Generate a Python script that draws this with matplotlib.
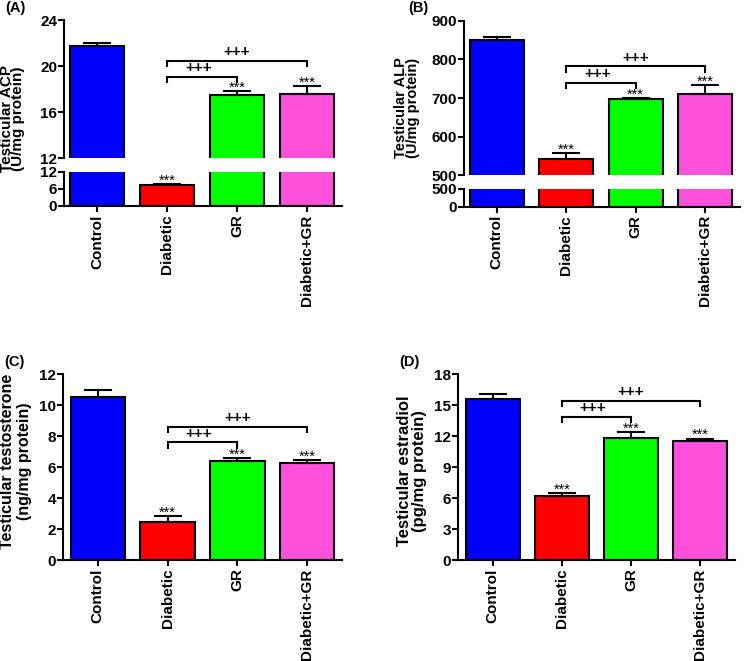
import matplotlib
matplotlib.use("Agg")
import matplotlib.pyplot as plt

plt.rcParams['font.family'] = ['Liberation Sans', 'DejaVu Sans']
plt.rcParams['font.weight'] = 'bold'

groups = ["Control", "Diabetic", "GR", "Diabetic+GR"]
colors = ["#0000FF", "#FF0000", "#00FF00", "#FF50DC"]

# Panel A: testicular ACP (U/mg protein)
acp_mean = [21.7, 7.3, 17.5, 17.55]
acp_sem = [0.3, 0.3, 0.3, 0.7]
acp_brackets = [20.45, 19.07]
# Panel B: testicular ALP (U/mg protein)
alp_mean = [851, 543, 697, 710]
alp_sem = [6, 14, 3, 24]
alp_brackets = [782, 740]
# Panel C: testosterone (ng/mg protein)
tes_mean = [10.55, 2.45, 6.38, 6.30]
tes_sem = [0.45, 0.40, 0.23, 0.17]
tes_brackets = [8.62, 7.60]
# Panel D: estradiol (pg/mg protein)
est_mean = [15.62, 6.22, 11.80, 11.55]
est_sem = [0.47, 0.28, 0.60, 0.22]
est_brackets = [15.43, 13.90]

W, H = 745, 661
fig = plt.figure(figsize=(W / 100, H / 100), dpi=100)

LW = 1.5


def px_axes(x0, y0, x1, y1):
    return fig.add_axes([x0 / W, 1 - y1 / H, (x1 - x0) / W, (y1 - y0) / H])


def style(ax, bottom=True, fs=11):
    for s in ['top', 'right']:
        ax.spines[s].set_visible(False)
    ax.spines['left'].set_linewidth(LW)
    ax.spines['bottom'].set_linewidth(LW)
    ax.tick_params(axis='y', direction='out', length=4, width=LW, labelsize=fs, pad=1)
    if bottom:
        ax.tick_params(axis='x', direction='out', length=4, width=LW, labelsize=fs, pad=2)
        ax.set_xticks(range(len(groups)))
        ax.set_xticklabels(groups, rotation=90, fontweight='bold')
    else:
        ax.spines['bottom'].set_visible(False)
        ax.set_xticks([])
    for lab in ax.get_yticklabels():
        lab.set_fontweight('bold')


def draw_bars(ax, means, sems):
    x = list(range(len(groups)))
    ax.bar(x, means, width=0.78, color=colors, edgecolor='black', linewidth=LW, zorder=2)
    ax.errorbar(x, means, yerr=[[0] * len(sems), sems], fmt='none', ecolor='black',
                elinewidth=LW, capsize=10, capthick=LW, zorder=3)
    for i in range(1, 4):
        ax.annotate('***', xy=(i, means[i] + sems[i]), xytext=(0, -0.5),
                    textcoords='offset points', ha='center', va='baseline',
                    fontsize=10.5, fontweight='normal', zorder=4)


def draw_brackets(ax, levels, drop, fs=11):
    up, low = levels
    ax.plot([1, 1, 3, 3], [up - drop, up, up, up - drop], color='black', lw=LW, clip_on=False,
            solid_joinstyle='miter')
    ax.plot([1, 1, 2, 2], [low - drop, low, low, low - drop], color='black', lw=LW, clip_on=False,
            solid_joinstyle='miter')
    ax.annotate('+++', xy=(2, up), xytext=(0, 1), textcoords='offset points',
                ha='center', va='bottom', fontsize=fs, fontweight='bold')
    ax.annotate('+++', xy=(1.45, low), xytext=(0, 1), textcoords='offset points',
                ha='center', va='bottom', fontsize=fs, fontweight='bold')


XL = (-0.47, 3.5)

# ---- Panel A (broken axis)
axA_up = px_axes(64, 20, 342, 158)
axA_lo = px_axes(64, 172, 342, 206)
for ax in (axA_up, axA_lo):
    draw_bars(ax, acp_mean, acp_sem)
    ax.set_xlim(*XL)
axA_up.set_ylim(12, 24)
axA_up.set_yticks([12, 16, 20, 24])
axA_lo.set_ylim(0, 12)
axA_lo.set_yticks([0, 6, 12])
style(axA_up, bottom=False)
style(axA_lo, bottom=True)
draw_brackets(axA_up, acp_brackets, 0.45)

# ---- Panel B (broken axis)
axB_up = px_axes(464, 20.7, 740, 175.3)
axB_lo = px_axes(464, 188.7, 740, 206.7)
for ax in (axB_up, axB_lo):
    draw_bars(ax, alp_mean, alp_sem)
    ax.set_xlim(*XL)
axB_up.set_ylim(500, 900)
axB_up.set_yticks([500, 600, 700, 800, 900])
axB_lo.set_ylim(0, 500)
axB_lo.set_yticks([0, 500])
style(axB_up, bottom=False)
style(axB_lo, bottom=True)
draw_brackets(axB_up, alp_brackets, 14)

# ---- Panel C
axC = px_axes(63, 374.3, 342, 560)
draw_bars(axC, tes_mean, tes_sem)
axC.set_xlim(-0.5, 3.5)
axC.set_ylim(0, 12)
axC.set_yticks(range(0, 13, 2))
style(axC)
draw_brackets(axC, tes_brackets, 0.37)

# ---- Panel D
axD = px_axes(458, 374.3, 735, 560)
draw_bars(axD, est_mean, est_sem)
axD.set_xlim(-0.5, 3.5)
axD.set_ylim(0, 18)
axD.set_yticks(range(0, 19, 3))
style(axD)
draw_brackets(axD, est_brackets, 0.55)


def ftext(x, y, s, **kw):
    fig.text(x / W, 1 - y / H, s, fontweight='bold', **kw)


# panel letters
ftext(5, 8, '(A)', fontsize=10.5, ha='left', va='center')
ftext(408, 8, '(B)', fontsize=10.5, ha='left', va='center')
ftext(4, 362, '(C)', fontsize=10.5, ha='left', va='center')
ftext(399, 362, '(D)', fontsize=10.5, ha='left', va='center')

# y labels (two centred lines each)
ftext(12.5, 119, 'Testicular ACP\n(U/mg protein)', fontsize=11, rotation=90,
      ha='center', va='center', multialignment='center', linespacing=0.78)
ftext(407, 108, 'Testicular ALP\n(U/mg protein)', fontsize=10.5, rotation=90,
      ha='center', va='center', multialignment='center', linespacing=0.78)
ftext(16, 461, 'Testicular testosterone\n(ng/mg protein)', fontsize=11.5, rotation=90,
      ha='center', va='center', multialignment='center', linespacing=1.15)
ftext(412, 471, 'Testicular estradiol\n(pg/mg protein)', fontsize=12, rotation=90,
      ha='center', va='center', multialignment='center', linespacing=0.95)

fig.savefig('out.png', dpi=100, facecolor='white')
